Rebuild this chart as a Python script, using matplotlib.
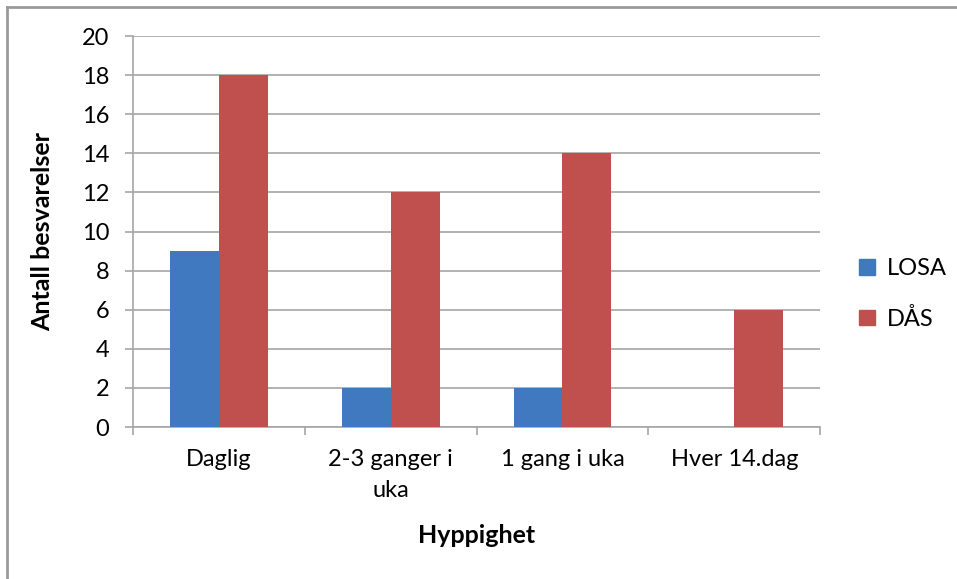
import numpy as np
import matplotlib.pyplot as plt
from matplotlib.patches import Patch
from matplotlib.lines import Line2D

plt.rcParams['font.family'] = ['Lato', 'DejaVu Sans']

categories = ['Daglig', '2-3 ganger i\nuka', '1 gang i uka', 'Hver 14.dag']
losa = [9, 2, 2, 0]
daas = [18, 12, 14, 6]
series_names = ['LOSA', 'DÅS']

blue = '#4079BF'
red = '#C0504D'
grid_gray = '#A6A6A6'

fig = plt.figure(figsize=(9.57, 5.79), dpi=100)
ax = fig.add_axes([0.139, 0.2625, 0.718, 0.6753])

x = np.arange(len(categories))
w = 0.285
ax.bar(x - w / 2, losa, w, color=blue, zorder=3)
ax.bar(x + w / 2, daas, w, color=red, zorder=3)

ax.set_xlim(-0.5, len(categories) - 0.5)
ax.set_ylim(0, 20)
ax.set_yticks(range(0, 21, 2))
ax.yaxis.grid(True, color=grid_gray, linewidth=1.2, zorder=0)

# category boundaries get the tick marks, centres get the labels
ax.set_xticks(np.arange(-0.5, len(categories), 1.0))
ax.set_xticklabels([])
ax.set_xticks(x, minor=True)
ax.set_xticklabels(categories, minor=True, linespacing=1.6)
ax.tick_params(axis='x', which='major', length=6, width=1.2, color=grid_gray, direction='out')
ax.tick_params(axis='x', which='minor', length=0, pad=16, labelsize=17)
ax.tick_params(axis='y', length=6, width=1.2, color=grid_gray, labelsize=17, pad=11)

for side in ['top', 'right']:
    ax.spines[side].set_visible(False)
for side in ['left', 'bottom']:
    ax.spines[side].set_color(grid_gray)
    ax.spines[side].set_linewidth(1.2)

ax.set_ylabel('Antall besvarelser', fontsize=18, fontweight='bold', labelpad=20)
ax.set_xlabel('Hyppighet', fontsize=18, fontweight='bold', labelpad=16)

handles = [Patch(color=blue), Patch(color=red)]
fig.legend(handles, series_names, loc='center left', bbox_to_anchor=(0.898, 0.492),
           frameon=False, fontsize=17, handlelength=0.65, handleheight=0.65,
           handletextpad=0.5, labelspacing=1.2, borderpad=0, borderaxespad=0)

# outer chart frame: top and left edges only
fig.add_artist(Line2D([0.007, 1.0], [0.988, 0.988], transform=fig.transFigure,
                      color='#9A9A9A', linewidth=2))
fig.add_artist(Line2D([0.007, 0.007], [0.0, 0.988], transform=fig.transFigure,
                      color='#9A9A9A', linewidth=2))

fig.savefig('out.png', dpi=100)
